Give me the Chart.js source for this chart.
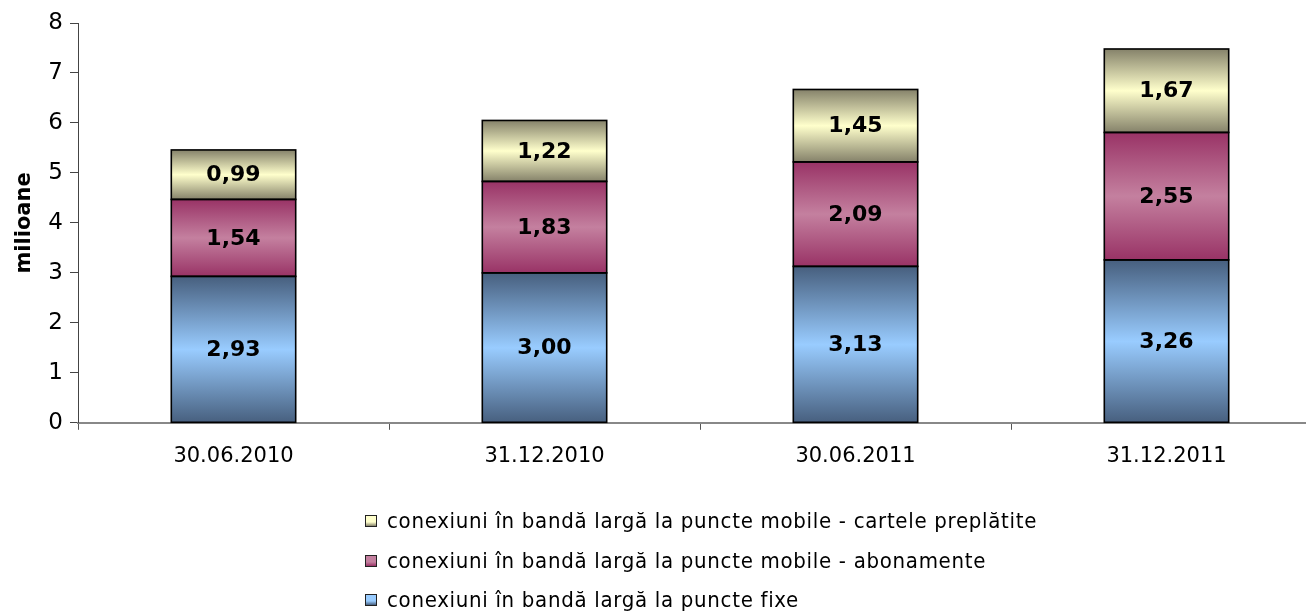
<!DOCTYPE html>
<html>
<head>
<meta charset="utf-8">
<script src="https://cdn.jsdelivr.net/npm/chart.js@4.4.1/dist/chart.umd.min.js"></script>
<style>
  html, body { margin: 0; padding: 0; background: #fff; overflow: hidden; }
  #wrap { position: relative; width: 1330px; height: 613px; }
  #legend { position: absolute; left: 365px; top: 505px; font-family: 'DejaVu Sans Condensed', 'DejaVu Sans', sans-serif; font-stretch: condensed; font-size: 22px; letter-spacing: 0.7px; color: #000; }
  #legend .row { height: 39.5px; line-height: 32px; white-space: nowrap; }
  #legend .box { display: inline-block; width: 10px; height: 10px; border: 1px solid #222; margin-right: 10px; vertical-align: 1px; }
</style>
</head>
<body>
<div id="wrap">
  <canvas id="chart" width="1330" height="613"></canvas>
  <div id="legend"></div>
</div>
<script>
let categories = ['30.06.2010', '31.12.2010', '30.06.2011', '31.12.2011'];
let fixe = [2.93, 3.00, 3.13, 3.26];
let abonamente = [1.54, 1.83, 2.09, 2.55];
let preplatite = [0.99, 1.22, 1.45, 1.67];
let yTicks = [0, 1, 2, 3, 4, 5, 6, 7, 8];

let seriesNames = [
    'conexiuni în bandă largă la puncte fixe',
    'conexiuni în bandă largă la puncte mobile - abonamente',
    'conexiuni în bandă largă la puncte mobile - cartele preplătite'
];
// edge colour, middle colour for each series
let shades = [
    ['#475f7e', '#99ccff'],
    ['#993366', '#c4809f'],
    ['#85826a', '#ffffcc']
];

// vertical gradient per segment: dark at the edges, light in the middle
function segmentFill(context) {
    let chart = context.chart;
    let di = context.datasetIndex;
    let sh = shades[di];
    if (!chart.chartArea || context.type !== 'data') return sh[1];
    let y = chart.scales.y;
    let start = 0;
    for (let k = 0; k < di; k++) start += chart.data.datasets[k].data[context.dataIndex];
    let end = start + chart.data.datasets[di].data[context.dataIndex];
    let top = y.getPixelForValue(end);
    let bottom = y.getPixelForValue(start);
    let g = chart.ctx.createLinearGradient(0, top, 0, bottom);
    g.addColorStop(0, sh[0]);
    g.addColorStop(0.5, sh[1]);
    g.addColorStop(1, sh[0]);
    return g;
}

// outlines centred on the segment edges, then the value labels
let barDecor = {
    id: 'barDecor',
    afterDatasetsDraw(chart) {
        let ctx = chart.ctx;
        ctx.save();
        ctx.strokeStyle = '#000';
        ctx.lineWidth = 1.6;
        chart.data.datasets.forEach((ds, i) => {
            chart.getDatasetMeta(i).data.forEach(bar => {
                let w = bar.width;
                ctx.strokeRect(bar.x - w / 2, bar.y, w, bar.base - bar.y);
            });
        });
        ctx.font = 'bold 22px "DejaVu Sans", sans-serif';
        ctx.fillStyle = '#000';
        ctx.textAlign = 'center';
        ctx.textBaseline = 'middle';
        chart.data.datasets.forEach((ds, i) => {
            chart.getDatasetMeta(i).data.forEach((bar, j) => {
                let mid = (bar.y + bar.base) / 2;
                ctx.fillText(ds.data[j].toFixed(2).replace('.', ','), bar.x, mid + 1);
            });
        });
        ctx.restore();
    }
};

let datasets = [fixe, abonamente, preplatite].map((d, i) => ({
    label : seriesNames[i],
    data : d,
    backgroundColor : segmentFill,
    borderWidth : 0,
    categoryPercentage : 1,
    barPercentage : 0.4
}));

let config = {
    type : 'bar',
    data : { labels : categories, datasets : datasets },
    options : {
        responsive : false,
        animation : false,
        layout : { padding : { top : 23, right : 8, bottom : 130, left : 0 } },
        plugins : {
            legend : { display : false },
            tooltip : { enabled : false }
        },
        scales : {
            x : {
                stacked : true,
                offset : true,
                grid : { offset : true, drawOnChartArea : false, color : '#555', tickLength : 7 },
                border : { color : '#888', width : 2 },
                ticks : { color : '#000', padding : 14, font : { family : 'DejaVu Sans', size : 21 } }
            },
            y : {
                stacked : true,
                min : 0,
                max : 8,
                afterBuildTicks : s => { s.ticks = yTicks.map(v => ({ value : v })); },
                afterFit : s => { s.width = 78; },
                grid : { drawOnChartArea : false, color : '#444', tickLength : 8 },
                border : { color : '#444', width : 1 },
                ticks : { color : '#000', padding : 7, font : { family : 'DejaVu Sans', size : 23 } },
                title : {
                    display : true,
                    text : 'milioane',
                    color : '#000',
                    padding : { top : 12, bottom : 0 },
                    font : { family : 'DejaVu Sans', size : 21, weight : 'bold' }
                }
            }
        }
    },
    plugins : [barDecor]
};

let chart = new Chart(document.getElementById('chart').getContext('2d'), config);

let legend = document.getElementById('legend');
[2, 1, 0].forEach(i => {
    let row = document.createElement('div');
    row.className = 'row';
    let box = document.createElement('span');
    box.className = 'box';
    box.style.background = 'linear-gradient(' + shades[i][1] + ', ' + shades[i][1] + ' 60%, ' + shades[i][0] + ')';
    row.appendChild(box);
    row.appendChild(document.createTextNode(seriesNames[i]));
    legend.appendChild(row);
});
</script>
</body>
</html>
